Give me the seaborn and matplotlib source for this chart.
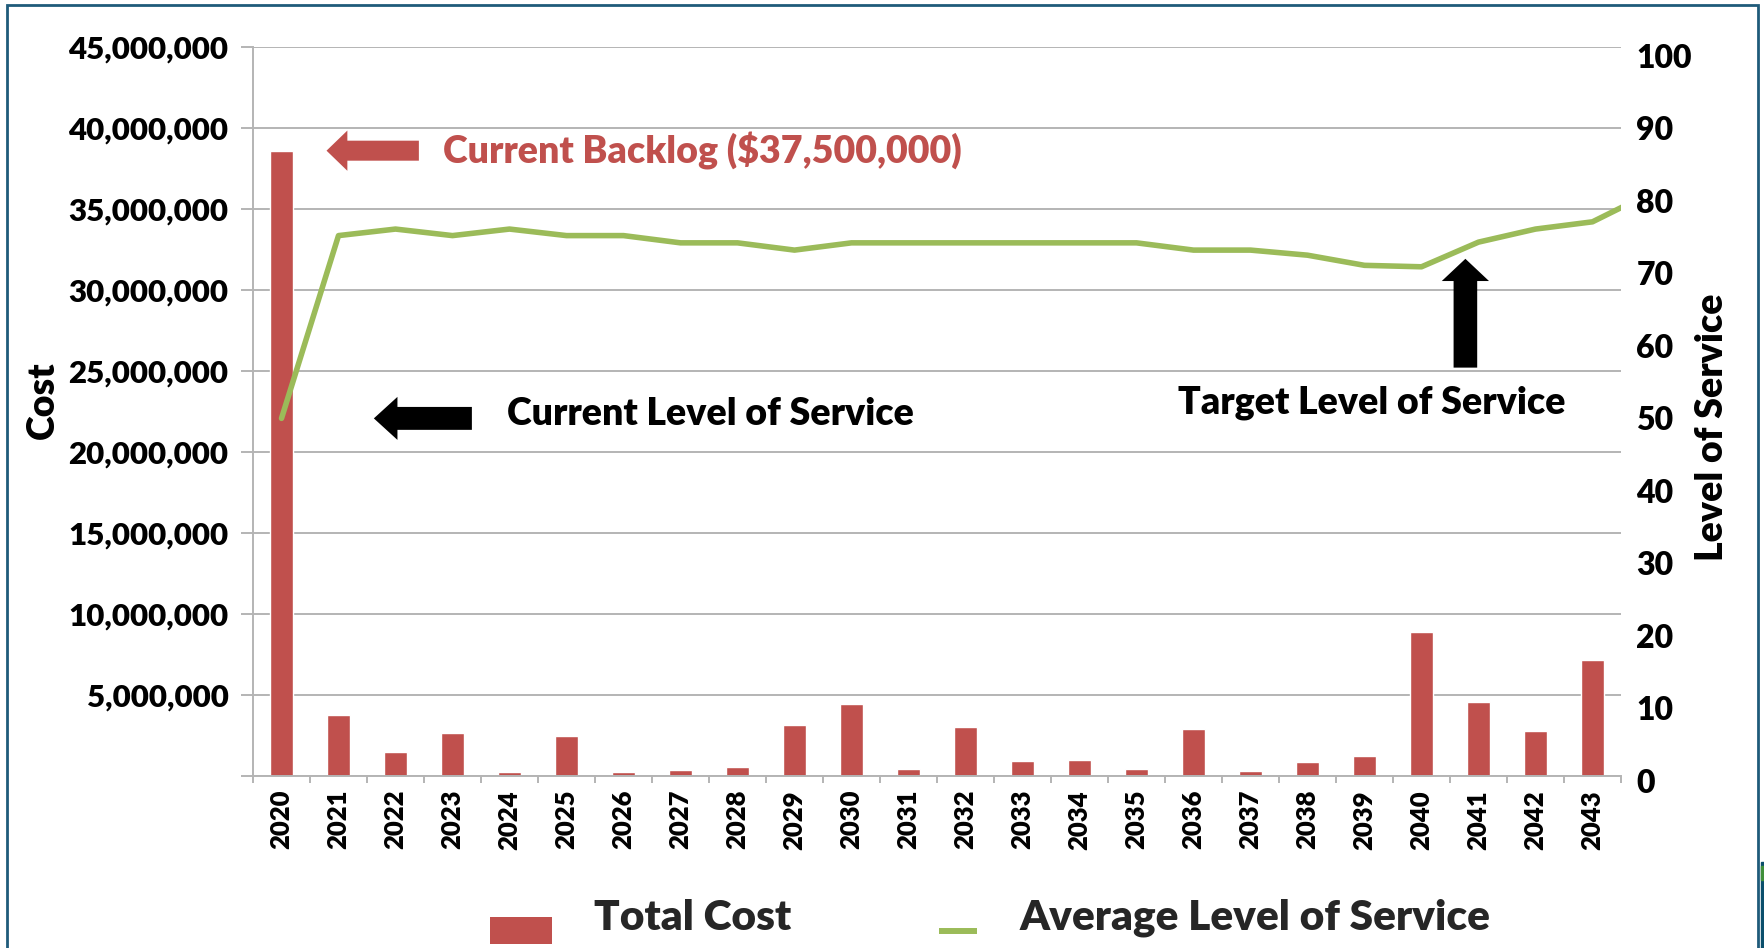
import numpy as np
import pandas as pd
import matplotlib
matplotlib.use("Agg")
import matplotlib.pyplot as plt
import matplotlib.transforms as mtransforms
import seaborn as sns
from matplotlib.ticker import FuncFormatter
from matplotlib.patches import Rectangle, Patch
from matplotlib.lines import Line2D
from matplotlib.legend_handler import HandlerPatch, HandlerLine2D

# ---------------- data ----------------
years = ["2020", "2021", "2022", "2023", "2024", "2025", "2026", "2027",
         "2028", "2029", "2030", "2031", "2032", "2033", "2034", "2035",
         "2036", "2037", "2038", "2039", "2040", "2041", "2042", "2043"]
total_cost = [38_600_000, 3_740_000, 1_470_000, 2_680_000, 270_000, 2_480_000,
              270_000, 390_000, 540_000, 3_160_000, 4_460_000, 450_000,
              3_050_000, 910_000, 990_000, 450_000, 2_930_000, 290_000,
              870_000, 1_240_000, 8_900_000, 4_570_000, 2_770_000, 7_190_000]
# average level of service; the line runs on one more point (2044) that is cut by the plot edge
avg_los = [49.3, 74.5, 75.4, 74.5, 75.4, 74.5, 74.5, 73.5, 73.5, 72.5, 73.5,
           73.5, 73.5, 73.5, 73.5, 73.5, 72.5, 72.5, 71.8, 70.4, 70.2, 73.6,
           75.4, 76.4, 80.3]
cost_ticks = [0, 5_000_000, 10_000_000, 15_000_000, 20_000_000, 25_000_000,
              30_000_000, 35_000_000, 40_000_000, 45_000_000]
los_ticks = [0, 10, 20, 30, 40, 50, 60, 70, 80, 90, 100]

# ---------------- style ----------------
sns.set_theme(style="white")
plt.rcParams["font.family"] = ["Lato", "DejaVu Sans"]
WEIGHT = "heavy"
plt.rcParams["font.weight"] = WEIGHT
plt.rcParams["axes.labelweight"] = WEIGHT

RED = "#C0504D"
GREEN = "#9BBB59"
GRID = "#B4B4B4"

W, H = 1765, 948
fig = plt.figure(figsize=(W / 100, H / 100), dpi=100)
fig.patch.set_facecolor("white")
ax = fig.add_axes([253 / W, 1 - 776 / H, 1368 / W, 729 / H])

df_cost = pd.DataFrame({"Year": years, "Total Cost": total_cost})
sns.barplot(data=df_cost, x="Year", y="Total Cost", color=RED, saturation=1,
            width=0.4, ax=ax, zorder=2)

ax2 = ax.twinx()
df_los = pd.DataFrame({"pos": np.arange(len(avg_los)), "LOS": avg_los})
sns.lineplot(data=df_los, x="pos", y="LOS", ax=ax2, color=GREEN, lw=4.0,
             solid_joinstyle="round", solid_capstyle="round")

# ---------------- axes ----------------
ax.set_xlim(-0.5, len(years) - 0.5)
ax.set_ylim(0, cost_ticks[-1])
ax.set_yticks(cost_ticks)
ax.yaxis.set_major_formatter(FuncFormatter(lambda v, p: "" if v == 0 else f"{v:,.0f}"))
ax.grid(axis="y", color=GRID, lw=1.4, zorder=0)
ax.grid(axis="x", visible=False)
ax.set_axisbelow(True)
for s in ["top", "right"]:
    ax.spines[s].set_visible(False)
for s in ["left", "bottom"]:
    ax.spines[s].set_color(GRID)
    ax.spines[s].set_linewidth(1.4)

ax.set_xticks(range(len(years)))
ax.set_xticklabels(years)
ax.set_xticks(np.arange(len(years) + 1) - 0.5, minor=True)
ax.tick_params(axis="x", which="major", length=0, pad=10, labelsize=18.5,
               labelrotation=90, colors="black")
ax.tick_params(axis="x", which="minor", length=5, width=1.4, color=GRID,
               direction="out", bottom=True)
ax.tick_params(axis="y", which="major", length=8.6, width=1.4, color=GRID,
               direction="out", left=True, pad=9, labelsize=22.5, labelcolor="black")
ax.set_xlabel("")
ax.set_ylabel("Cost", fontsize=27, fontweight=WEIGHT, color="black")
ax.yaxis.set_label_coords(-0.1535, 0.516)
ax.yaxis.label.set_va("center")

ax2.set_ylim(0, 100.5)
ax2.set_yticks(los_ticks)
ax2.tick_params(axis="y", length=0, pad=11, labelsize=23, labelcolor="black")
ax2.grid(False)
for s in ax2.spines.values():
    s.set_visible(False)
ax2.set_xlabel("")
ax2.set_ylabel("Level of Service", fontsize=27, fontweight=WEIGHT,
               color="black", rotation=90)
ax2.yaxis.set_label_coords(1.0665, 0.479)
ax2.yaxis.label.set_va("center")
ax2.yaxis.label.set_ha("center")
ax.set_xlim(-0.5, len(years) - 0.5)
# secondary-axis labels sit a few pixels low in the original
shift = mtransforms.ScaledTranslation(0, -5 / 100, fig.dpi_scale_trans)
for lab in ax2.get_yticklabels():
    lab.set_transform(lab.get_transform() + shift)

# ---------------- annotations ----------------
def arrow(axis, tip, tail, color, hl, hw, tw):
    axis.annotate("", xy=tip, xytext=tail,
                  arrowprops=dict(arrowstyle=f"simple,head_length={hl},head_width={hw},tail_width={tw}",
                                  mutation_scale=1, fc=color, ec=color, lw=0,
                                  shrinkA=0, shrinkB=0))

ANN = 27
arrow(ax, (0.79, total_cost[0]), (2.41, total_cost[0]), RED, 15, 29, 14.4)
ax.text(2.83, total_cost[0], "Current Backlog (\\$37,500,000)", color=RED,
        fontsize=ANN, fontweight=WEIGHT, ha="left", va="center")

arrow(ax2, (1.62, avg_los[0]), (3.34, avg_los[0]), "black", 17, 31, 16.5)
ax2.text(3.96, avg_los[0] + 0.6, "Current Level of Service", color="black",
         fontsize=ANN, fontweight=WEIGHT, ha="left", va="center")

arrow(ax2, (20.77, 71.3), (20.77, 56.3), "black", 16, 34, 17)
ax2.text(19.13, 51.5, "Target Level of Service", color="black",
         fontsize=ANN, fontweight=WEIGHT, ha="center", va="center")

# ---------------- legend ----------------
class LowPatch(HandlerPatch):
    def create_artists(self, legend, orig_handle, xdescent, ydescent, width,
                       height, fontsize, trans):
        r = Rectangle((-xdescent, -ydescent - 0.33 * fontsize), width, 0.62 * fontsize,
                      facecolor=orig_handle.get_facecolor(), edgecolor="none",
                      transform=trans)
        return [r]


class ShortLine(HandlerLine2D):
    def create_artists(self, legend, orig_handle, xdescent, ydescent, width,
                       height, fontsize, trans):
        y = -ydescent - 0.04 * fontsize
        ln = Line2D([-xdescent + 0.39 * width, -xdescent + width], [y, y],
                    color=orig_handle.get_color(), lw=orig_handle.get_linewidth(),
                    solid_capstyle="butt", transform=trans)
        return [ln]


LEG = 30.5
h_bar = Patch(facecolor=RED, label="Total Cost")
h_line = Line2D([], [], color=GREEN, lw=4.3, label="Average Level of Service")
fig.legend(handles=[h_bar, h_line], loc="center left",
           bbox_to_anchor=(490 / W, 1 - 918 / H), ncol=2, frameon=False,
           prop={"size": LEG, "weight": WEIGHT},
           handlelength=62 / (LEG * 1.389), handleheight=0.7,
           handletextpad=42 / (LEG * 1.389), columnspacing=124 / (LEG * 1.389),
           borderpad=0, borderaxespad=0,
           handler_map={Patch: LowPatch(), Line2D: ShortLine()})

# ---------------- frame ----------------
fig.patches.append(Rectangle((7 / W, -0.1), (1758 - 7) / W, 1.1 - 5 / H,
                             transform=fig.transFigure, fill=False,
                             ec="#1f5b7a", lw=2, zorder=10))
fig.patches.append(Rectangle((1761 / W, 0), 4 / W, 86 / H,
                             transform=fig.transFigure, color="#0b4f6c", zorder=10))
fig.patches.append(Rectangle((1761 / W, 1 - 880 / H), 4 / W, 14 / H,
                             transform=fig.transFigure, color="#3f8f3a", zorder=11))

fig.savefig("out.png", dpi=100)
